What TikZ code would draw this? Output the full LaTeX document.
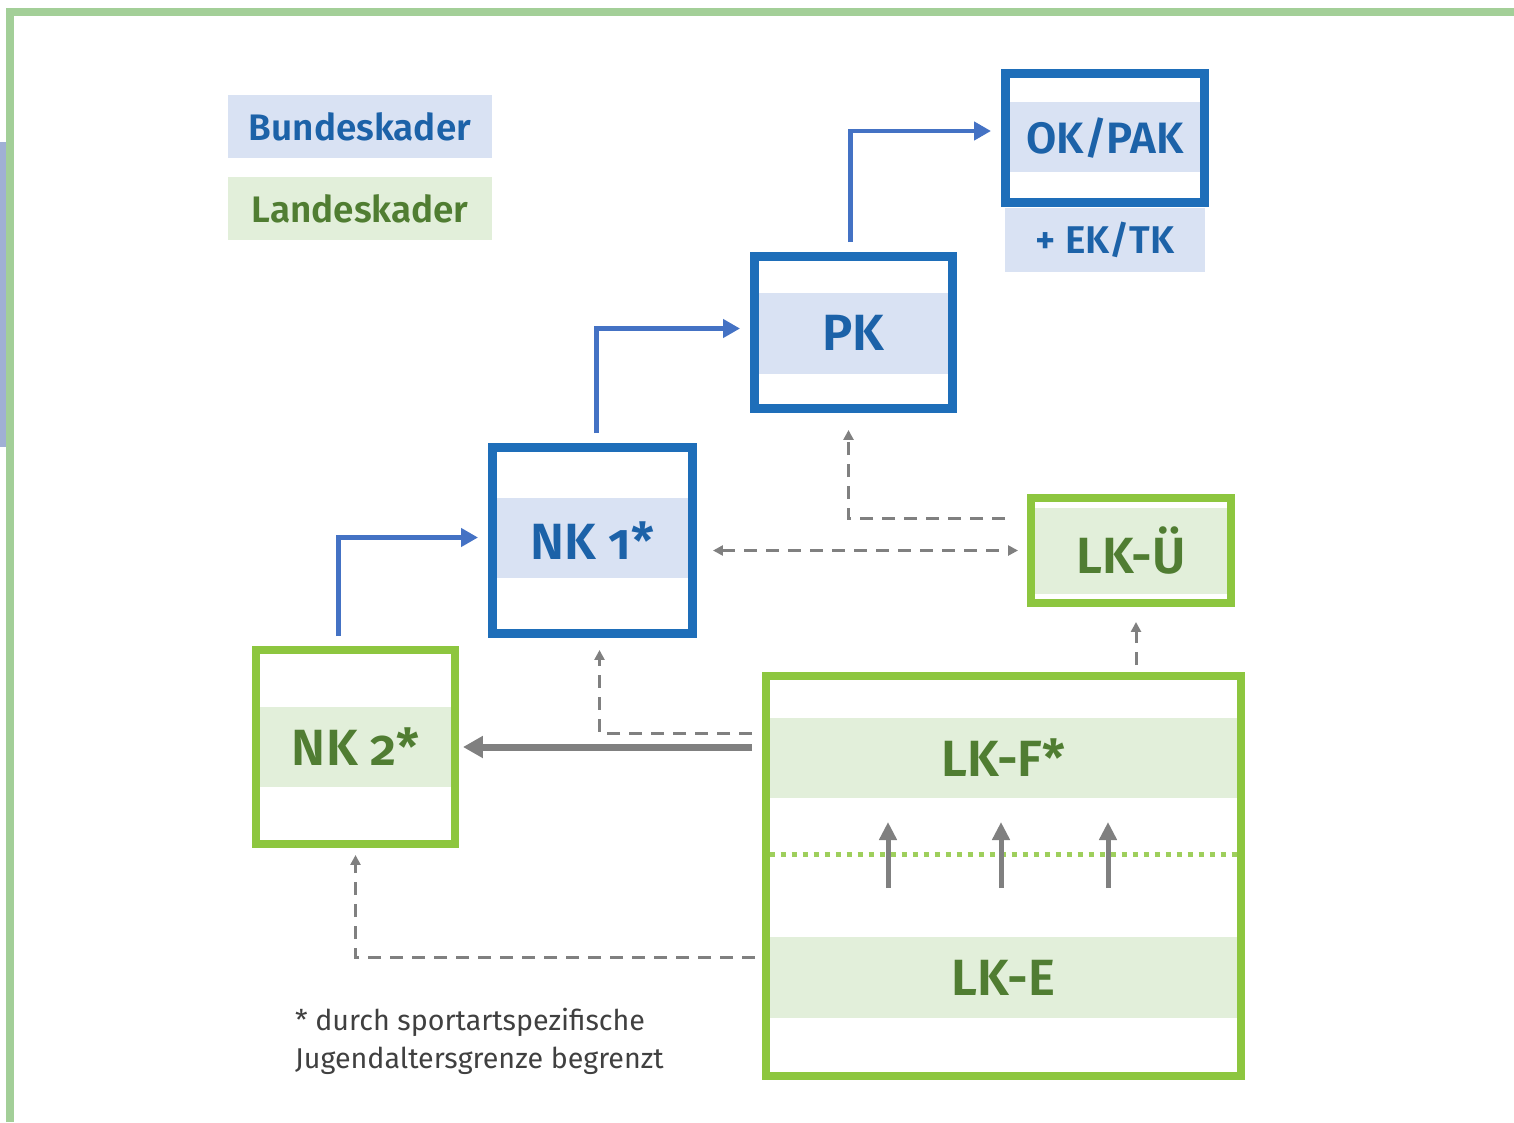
\documentclass[tikz,border=0pt]{standalone}
\usepackage{fontspec}
\setmainfont{Fira Sans}[Numbers=OldStyle, BoldFont={Fira Sans SemiBold}]
\usetikzlibrary{arrows.meta,calc}

\definecolor{kaderblue}{RGB}{30,110,185}
\definecolor{bandblue}{RGB}{217,226,243}
\definecolor{textblue}{RGB}{28,98,168}
\definecolor{arrowblue}{RGB}{68,114,196}
\definecolor{kadergreen}{RGB}{141,198,63}
\definecolor{bandgreen}{RGB}{226,239,218}
\definecolor{textgreen}{RGB}{80,125,50}
\definecolor{framegreen}{RGB}{163,207,152}
\definecolor{stripblue}{RGB}{160,176,212}
\definecolor{arrowgray}{RGB}{128,128,128}

\begin{document}
\begin{tikzpicture}[
    x=0.02cm, y=-0.02cm,
    bundbox/.style={draw=kaderblue, line width=0.18cm, inner sep=0pt, text=textblue,
        font=\fontsize{29}{34}\selectfont\bfseries},
    landbox/.style={draw=kadergreen, line width=0.16cm, inner sep=0pt, text=textgreen,
        font=\fontsize{29}{34}\selectfont\bfseries},
    bband/.style={fill=bandblue, inner sep=0pt, text=textblue},
    gband/.style={fill=bandgreen, inner sep=0pt, text=textgreen},
    bluestep/.style={draw=arrowblue, line width=0.1cm, -{Triangle[length=0.34cm,width=0.36cm]},
        shorten <=0.2cm, shorten >=0.2cm},
    graydash/.style={draw=arrowgray, line width=0.06cm, dash pattern=on 0.26cm off 0.18cm,
        -{Triangle[length=0.2cm,width=0.2cm]}},
    grayfat/.style={draw=arrowgray, line width=0.14cm, -{Triangle[length=0.4cm,width=0.42cm]}},
    grayup/.style={draw=arrowgray, line width=0.1cm, -{Triangle[length=0.36cm,width=0.34cm]}},
    greendot/.style={draw=kadergreen!85, line width=0.1cm, dash pattern=on 0.1cm off 0.12cm}
]
\useasboundingbox (0,0) rectangle (1514,1122);

% Frame
\fill[stripblue] (0,142) rectangle (6,447);
\draw[framegreen, line width=0.16cm] (10,1122) -- (10,12) -- (1514,12);

% Legend
\node[bband, minimum width=5.28cm, minimum height=1.26cm, font=\fontsize{21}{25}\selectfont\bfseries]
    (legbund) at (360,126.5) {Bundeskader};
\node[gband, minimum width=5.28cm, minimum height=1.26cm, font=\fontsize{21}{25}\selectfont\bfseries]
    (legland) at (360,208.5) {Landeskader};

% Bands behind the boxes
\node[bband, minimum width=3.8cm, minimum height=1.4cm] (OKband) at (1105,137) {};
\node[bband, minimum width=3.78cm, minimum height=1.62cm] (PKband) at (853.5,333.5) {};
\node[bband, minimum width=3.82cm, minimum height=1.6cm] (NKaband) at (592.5,538) {};
\node[gband, minimum width=3.84cm, minimum height=1.72cm] (LKUband) at (1131,551) {};
\node[gband, minimum width=3.82cm, minimum height=1.6cm] (NKbband) at (355.5,747) {};
\node[gband, minimum width=9.34cm, minimum height=1.6cm, font=\fontsize{29}{34}\selectfont\bfseries]
    (LKF) at (1003.5,758) {LK-F*};
\node[gband, minimum width=9.34cm, minimum height=1.62cm, font=\fontsize{29}{34}\selectfont\bfseries]
    (LKE) at (1003.5,977.5) {LK-E};

% Kader boxes
\node[bundbox, minimum width=3.98cm, minimum height=2.58cm, font=\fontsize{25}{30}\selectfont\bfseries]
    (OKPAK) at (1105,138) {OK/PAK};
\node[bband, minimum width=4cm, minimum height=1.28cm, font=\fontsize{22}{26}\selectfont\bfseries]
    (EKTK) at (1105,240) {+ EK/TK};
\node[bundbox, minimum width=3.96cm, minimum height=3.04cm] (PK) at (853.5,332.5) {PK};
\node[bundbox, minimum width=4cm, minimum height=3.72cm] (NK1) at (592.5,540.5) {NK 1*};
\node[landbox, minimum width=4cm, minimum height=2.1cm] (LKU) at (1131,550.5) {LK-Ü};
\node[landbox, minimum width=3.98cm, minimum height=3.88cm] (NK2) at (355.5,747) {NK 2*};
\node[landbox, minimum width=9.5cm, minimum height=8cm] (LK) at (1003.5,876) {};

% Inside LK
\draw[greendot] (LKF.west |- 0,854) -- (LKF.east |- 0,854);
\foreach \ux in {888,1001,1108}
    \draw[grayup] (\ux,888) -- (\ux,822);

% Blue steps
\draw[bluestep] ($(NK2.north)+(-17,0)$) |- ($(NK1.west)+(0,-3)$);
\draw[bluestep] ($(NK1.north)+(4,0)$) |- ($(PK.west)+(0,-4)$);
\draw[bluestep] ($(PK.north)+(-3,0)$) |- ($(OKPAK.west)+(0,-7)$);

% Gray connectors
\draw[graydash, shorten >=0.34cm] ($(LKU.west)+(-22,-32)$) -| ($(PK.south)+(-5,0)$);
\draw[graydash, {Triangle[length=0.2cm,width=0.2cm]}-{Triangle[length=0.2cm,width=0.2cm]},
    shorten <=0.32cm, shorten >=0.18cm] (NK1.east |- LKU.west) -- (LKU.west);
\draw[graydash, shorten >=0.24cm] ($(LK.west |- LKF.center)+(-10,-25)$) -| ($(NK1.south)+(7,0)$);
\draw[grayfat, shorten <=0.2cm, shorten >=0.08cm] (LK.west |- NK2.east) -- (NK2.east);
\draw[graydash, shorten >=0.14cm] ($(LK.west |- LKE.center)+(-7,-20)$) -| (NK2.south);
\draw[graydash, shorten <=0.14cm, shorten >=0.3cm] ($(LKU.south |- LK.north)+(5,0)$) -- ($(LKU.south)+(5,0)$);

% Footnote
\node[anchor=west, align=left, text=black!75, font=\fontsize{16.3}{21.6}\selectfont]
    (note) at (289,1041) {* durch sportartspezifische\\Jugendaltersgrenze begrenzt};

\end{tikzpicture}
\end{document}
